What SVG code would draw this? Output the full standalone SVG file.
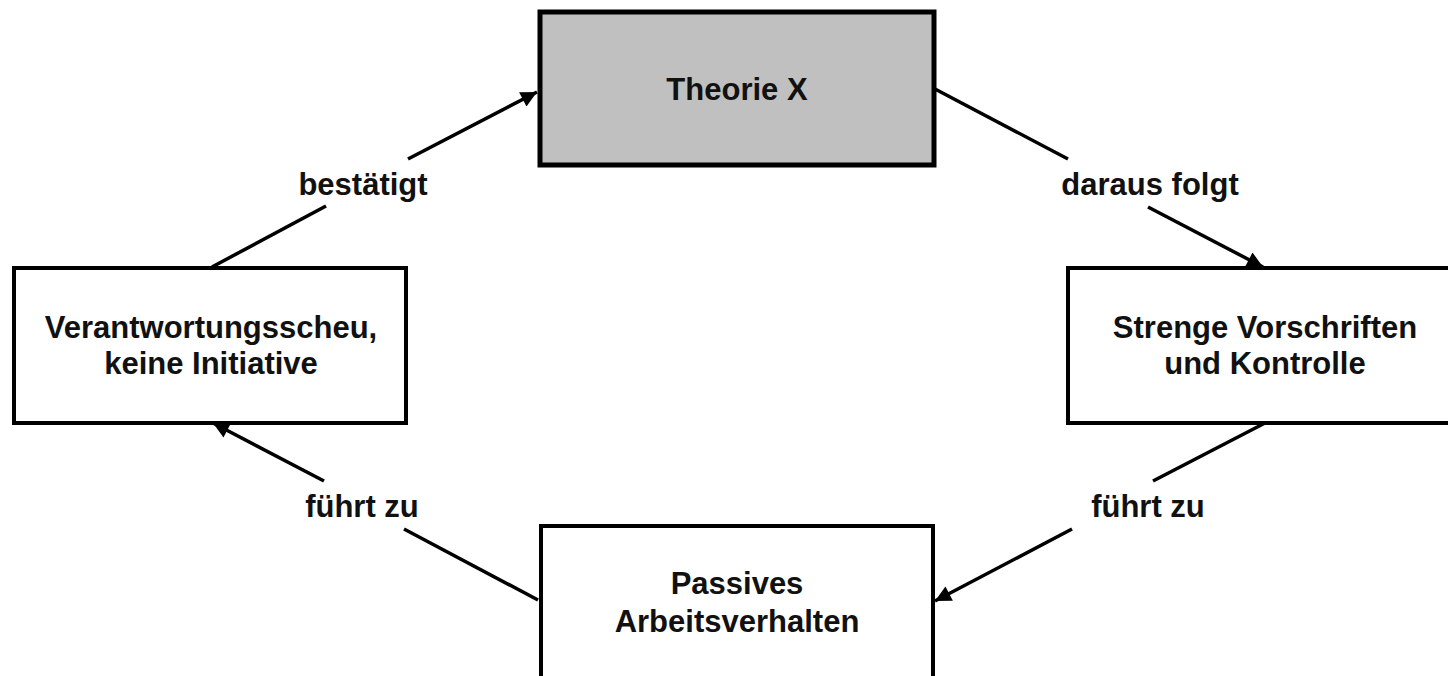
<svg xmlns="http://www.w3.org/2000/svg" width="1448" height="676" viewBox="0 0 1448 676">
<style>
.box{fill:#ffffff;stroke:#000000;stroke-width:4}
.gray{fill:#c0c0c0;stroke-width:5}
.t{font-family:"Liberation Sans",Arial,sans-serif;font-weight:bold;font-size:31px;fill:#111111;text-anchor:middle}
.c{stroke:#000000;stroke-width:3.5;fill:none}
</style>
<defs>
<marker id="ah" viewBox="0 0 10 10" refX="10" refY="5" markerWidth="20" markerHeight="16" markerUnits="userSpaceOnUse" orient="auto">
<path d="M0,0 L10,5 L0,10 z" fill="#000000"/>
</marker>
</defs>
<rect width="1448" height="676" fill="#ffffff"/>
<g id="connectors">
<line class="c" x1="212" y1="267" x2="326" y2="206"/>
<line class="c" x1="408" y1="159" x2="537" y2="92" marker-end="url(#ah)"/>
<text class="t" x="363" y="195">bestätigt</text>
<line class="c" x1="935" y1="89" x2="1068" y2="159"/>
<line class="c" x1="1148" y1="207" x2="1263" y2="267" marker-end="url(#ah)"/>
<text class="t" x="1150" y="195">daraus folgt</text>
<line class="c" x1="1265" y1="423" x2="1153" y2="481"/>
<line class="c" x1="1072" y1="529" x2="935" y2="601" marker-end="url(#ah)"/>
<text class="t" x="1148" y="517">führt zu</text>
<line class="c" x1="538" y1="600" x2="404" y2="529"/>
<line class="c" x1="324" y1="481" x2="213" y2="423" marker-end="url(#ah)"/>
<text class="t" x="362" y="517">führt zu</text>
</g>
<g id="theorie-x">
<rect class="box gray" x="540" y="12" width="394" height="153"/>
<text class="t" x="737" y="100">Theorie X</text>
</g>
<g id="strenge-vorschriften">
<rect class="box" x="1068" y="268" width="394" height="155"/>
<text class="t" x="1265" y="338">Strenge Vorschriften</text>
<text class="t" x="1265" y="374">und Kontrolle</text>
</g>
<g id="passives-arbeitsverhalten">
<rect class="box" x="541" y="526" width="392" height="170"/>
<text class="t" x="737" y="594">Passives</text>
<text class="t" x="737" y="632">Arbeitsverhalten</text>
</g>
<g id="verantwortungsscheu">
<rect class="box" x="14" y="268" width="392" height="155"/>
<text class="t" x="211" y="338">Verantwortungsscheu,</text>
<text class="t" x="211" y="374">keine Initiative</text>
</g>
</svg>
